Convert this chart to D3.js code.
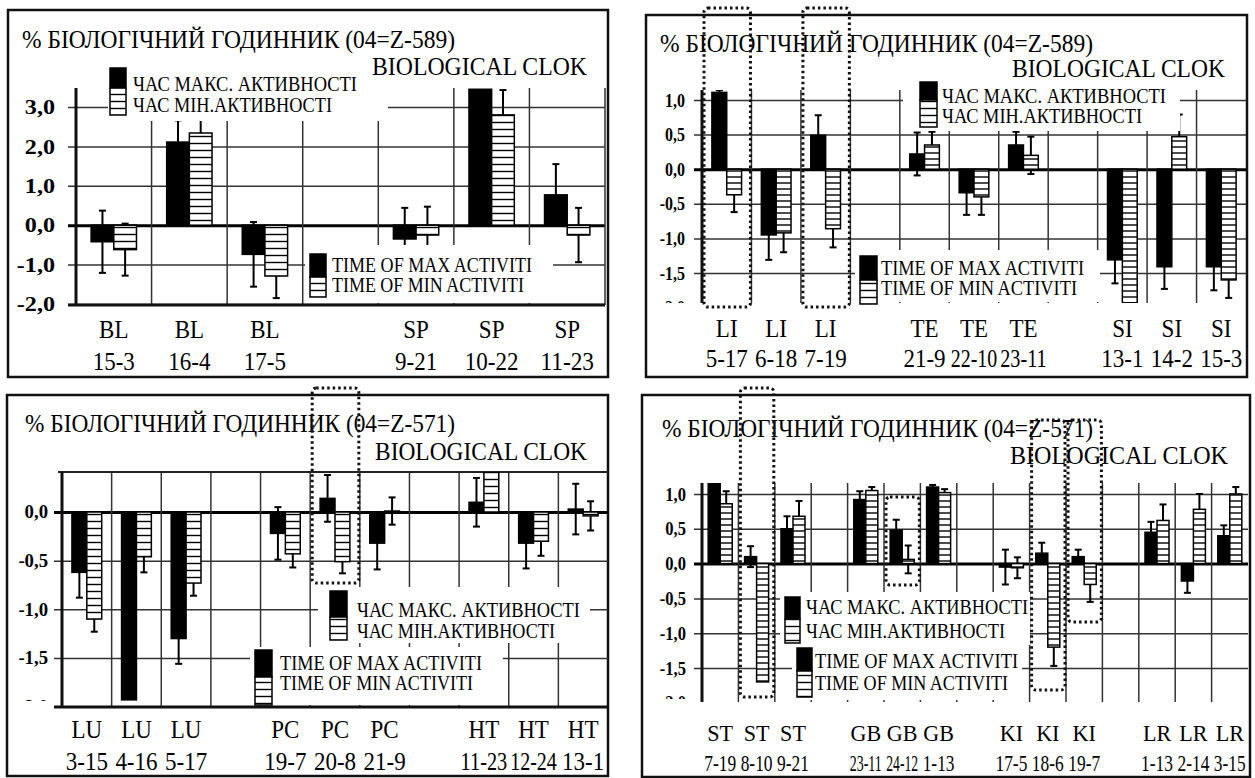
<!DOCTYPE html>
<html>
<head>
<meta charset="utf-8">
<style>
  body { margin: 0; background: #fff; }
  svg { display: block; }
  text { fill: #000; font-family: "Liberation Serif", "Times New Roman", Tinos, "Nimbus Roman", "DejaVu Serif", serif; }
</style>
</head>
<body>
<svg width="1255" height="778"></svg>
<script src="https://d3js.org/d3.v7.min.js"></script>
<script>
// ---------- data ----------
const subtitle = "BIOLOGICAL CLOK";
const legendUk = ["ЧАС МАКС. АКТИВНОСТІ", "ЧАС МІН.АКТИВНОСТІ"];
const legendEn = ["TIME OF MAX ACTIVITI", "TIME OF MIN ACTIVITI"];

// panel A: 04=Z-589, BL / SP
const titleA = "% БІОЛОГІЧНИЙ ГОДИННИК (04=Z-589)";
const codesA = ["BL", "BL", "BL", "", "SP", "SP", "SP"];
const hoursA = ["15-3", "16-4", "17-5", "", "9-21", "10-22", "11-23"];
const maxA = [-0.42, 2.11, -0.74, null, -0.35, 3.45, 0.77];
const maxErrA = [0.79, 0.55, 0.82, null, 0.79, 0, 0.78];
const minA = [-0.62, 2.34, -1.29, null, -0.25, 2.8, -0.25];
const minErrA = [0.66, 0.4, 0.56, null, 0.72, 0.63, 0.69];
const ticksA = [3, 2, 1, 0, -1, -2];

// panel B: 04=Z-589, LI / TE / SI
const titleB = "% БІОЛОГІЧНИЙ ГОДИННИК (04=Z-589)";
const codesB = ["LI", "LI", "LI", "", "TE", "TE", "TE", "", "SI", "SI", "SI"];
const hoursB = ["5-17", "6-18", "7-19", "", "21-9", "22-10", "23-11", "", "13-1", "14-2", "15-3"];
const maxB = [1.11, -0.95, 0.49, null, 0.22, -0.34, 0.35, null, -1.31, -1.41, -1.41];
const maxErrB = [0.03, 0.36, 0.29, null, 0.31, 0.32, 0.19, null, 0.34, 0.32, 0.34];
const minB = [-0.37, -0.92, -0.86, null, 0.35, -0.4, 0.2, null, -1.93, 0.47, -1.6];
const minErrB = [0.25, 0.28, 0.27, null, 0.19, 0.26, 0.27, null, 0, 0.32, 0.26];
const ticksB = [1, 0.5, 0, -0.5, -1, -1.5, -2];

// panel C: 04=Z-571, LU / PC / HT
const titleC = "% БІОЛОГІЧНИЙ ГОДИННИК (04=Z-571)";
const codesC = ["LU", "LU", "LU", "", "PC", "PC", "PC", "", "HT", "HT", "HT"];
const hoursC = ["3-15", "4-16", "5-17", "", "19-7", "20-8", "21-9", "", "11-23", "12-24", "13-1"];
const maxC = [-0.62, -1.93, -1.3, null, -0.22, 0.14, -0.32, null, 0.1, -0.32, 0.03];
const maxErrC = [0.26, 0, 0.26, null, 0.27, 0.24, 0.27, null, 0.25, 0.26, 0.26];
const minC = [-1.1, -0.46, -0.73, null, -0.43, -0.51, 0.01, null, 0.42, -0.3, -0.04];
const minErrC = [0.13, 0.16, 0.13, null, 0.14, 0.12, 0.14, null, 0, 0.15, 0.15];
const ticksC = [0, -0.5, -1, -1.5, -2];

// panel D: 04=Z-571, ST / GB / KI / LR
const titleD = "% БІОЛОГІЧНИЙ ГОДИННИК (04=Z-571)";
const codesD = ["ST", "ST", "ST", "", "GB", "GB", "GB", "", "KI", "KI", "KI", "", "LR", "LR", "LR"];
const hoursD = ["7-19", "8-10", "9-21", "", "23-11", "24-12", "1-13", "", "17-5", "18-6", "19-7", "", "1-13", "2-14", "3-15"];
const maxD = [1.15, 0.1, 0.5, null, 0.92, 0.48, 1.1, null, -0.05, 0.15, 0.1, null, 0.45, -0.25, 0.4];
const maxErrD = [0, 0.15, 0.18, null, 0.12, 0.15, 0.03, null, 0.25, 0.15, 0.1, null, 0.15, 0.17, 0.15];
const minD = [0.86, -1.7, 0.68, null, 1.05, 0.06, 1.02, null, -0.06, -1.2, -0.3, null, 0.62, 0.78, 1.0];
const minErrD = [0.18, 0, 0.22, null, 0.05, 0.2, 0.05, null, 0.15, 0.27, 0.25, null, 0.23, 0.22, 0.1];
const ticksD = [1, 0.5, 0, -0.5, -1, -1.5, -2];

// ---------- layout ----------
const panels = [
  { id: "A", title: titleA, codes: codesA, hours: hoursA, max: maxA, maxErr: maxErrA, min: minA, minErr: minErrA, ticks: ticksA,
    border: [8, 10, 608, 377], x0: 76, x1: 605, yDomain: [-2, 3], yRange: [304, 107], top: 88, bottom: 305,
    barFrac: 0.3, hatch: "hatch7", tickSize: 21, tickSx: 1.15, tickPad: 21, labelClip: 400,
    bottomLine: true, topLine: false, titlePos: [22, 455, 48], bioPos: [372, 587, 75],
    leg1: { sw: [110, 16, 68, 88, 115], tx: 133, lines: [[357, 91], [332, 112]], bg: [108, 60, 388, 121] },
    leg2: { sw: [310, 16, 254, 277, 297], tx: 332, lines: [[532, 272], [524, 292]], bg: [305, 245, 553, 303] },
    xl: [338, 370, 25, 0.92, 4], boxes: [] },
  { id: "B", title: titleB, codes: codesB, hours: hoursB, max: maxB, maxErr: maxErrB, min: minB, minErr: minErrB, ticks: ticksB,
    border: [646, 15, 1247, 377], x0: 702, x1: 1246, yDomain: [-1.5, 1], yRange: [273, 100], top: 90, bottom: 303,
    barFrac: 0.3, hatch: "hatch6", tickSize: 19, tickSx: 0.84, tickPad: 17, labelClip: 303,
    bottomLine: false, topLine: false, titlePos: [660, 1093, 52], bioPos: [1012, 1225, 77],
    leg1: { sw: [920, 17, 82, 100, 127], tx: 942, lines: [[1166, 103], [1142, 123]], bg: [903, 78, 1180, 131] },
    leg2: { sw: [860, 17, 256, 280, 304], tx: 881, lines: [[1084, 275], [1077, 295]], bg: [855, 250, 1100, 302] },
    xl: [337, 367, 25, 0.92, 3], boxes: [[0, 8, 307], [2, 8, 307]] },
  { id: "C", title: titleC, codes: codesC, hours: hoursC, max: maxC, maxErr: maxErrC, min: minC, minErr: minErrC, ticks: ticksC,
    border: [7, 395, 608, 776], x0: 62, x1: 608, yDomain: [-1.5, 0], yRange: [658, 512], top: 472, bottom: 707,
    barFrac: 0.3, hatch: "hatch7", tickSize: 18, tickSx: 1.04, tickPad: 14, labelClip: 701,
    bottomLine: true, topLine: true, titlePos: [25, 455, 432], bioPos: [375, 587, 460],
    leg1: { sw: [330, 17, 591, 617, 640], tx: 357, lines: [[580, 617], [555, 638]], bg: [318, 587, 590, 643] },
    leg2: { sw: [255, 17, 650, 677, 705], tx: 280, lines: [[482, 670], [473, 690]], bg: [250, 647, 503, 705] },
    xl: [738, 770, 25, 0.92, 3], boxes: [[5, 388, 583]] },
  { id: "D", title: titleD, codes: codesD, hours: hoursD, max: maxD, maxErr: maxErrD, min: minD, minErr: minErrD, ticks: ticksD,
    border: [642, 395, 1250, 777], x0: 702, x1: 1248, yDomain: [-1.5, 1], yRange: [668, 494], top: 483, bottom: 702,
    barFrac: 0.33, hatch: "hatch6", tickSize: 19, tickSx: 0.87, tickPad: 16, labelClip: 699,
    bottomLine: false, topLine: false, titlePos: [662, 1093, 437], bioPos: [1010, 1228, 464],
    leg1: { sw: [785, 15, 597, 619, 643], tx: 806, lines: [[1028, 614], [1005, 638]], bg: [780, 592, 1030, 645] },
    leg2: { sw: [797, 15, 648, 671, 697], tx: 815, lines: [[1018, 668], [1008, 690]], bg: [792, 645, 1022, 700] },
    xl: [741, 771, 24, 0.92, 4.5], boxes: [[1, 388, 697], [5, 497, 585], [9, 420, 690], [10, 420, 622]] }
];

// Times-like advance widths (em) so text keeps its size whichever serif font is found
const em = { "0": .5, "1": .5, "2": .5, "3": .5, "4": .5, "5": .5, "6": .5, "7": .5, "8": .5, "9": .5,
  "-": .333, ",": .25, B: .667, L: .611, S: .556, P: .556, I: .333, T: .611, E: .611, U: .722,
  C: .667, H: .722, G: .722, K: .722, R: .667 };
const tw = s => d3.sum(Array.from(s), c => em[c] || .6);

const svg = d3.select("svg");
const defs = svg.append("defs");

function hatch(id, h) {
  const p = defs.append("pattern").attr("id", id).attr("patternUnits", "userSpaceOnUse")
    .attr("width", 10).attr("height", h);
  p.append("rect").attr("width", 10).attr("height", h).attr("fill", "#fff");
  p.append("line").attr("x1", 0).attr("x2", 10).attr("y1", h / 2).attr("y2", h / 2)
    .attr("stroke", "#000").attr("stroke-width", 1.4);
}
hatch("hatch7", 7);
hatch("hatch6", 6);

function fitText(g, str, xa, xb, base, size) {
  g.append("text").attr("x", xa).attr("y", base)
    .attr("textLength", xb - xa).attr("lengthAdjust", "spacingAndGlyphs")
    .style("font-size", size + "px").text(str);
}

function drawPanel(p) {
  const g = svg.append("g");
  const n = p.codes.length;
  const x = d3.scaleBand().domain(d3.range(n)).range([p.x0, p.x1]);
  const y = d3.scaleLinear().domain(p.yDomain).range(p.yRange);
  const bw = x.bandwidth() * p.barFrac;
  const [bx0, by0, bx1, by1] = p.border;

  g.append("rect").attr("x", bx0).attr("y", by0).attr("width", bx1 - bx0).attr("height", by1 - by0)
    .attr("fill", "#fff").attr("stroke", "#111").attr("stroke-width", 2.5);

  defs.append("clipPath").attr("id", "clip" + p.id).append("rect")
    .attr("x", p.x0).attr("y", p.top).attr("width", p.x1 - p.x0).attr("height", p.bottom - p.top);
  defs.append("clipPath").attr("id", "lbl" + p.id).append("rect")
    .attr("x", -100).attr("y", 0).attr("width", p.x1 - p.x0 + 102).attr("height", p.labelClip);

  // y axis: ticks, labels and horizontal grid
  const fmt = d => d3.format(".1f")(d).replace("−", "-").replace(".", ",");
  const yAxis = d3.axisLeft(y).tickValues(p.ticks).tickSize(-(p.x1 - p.x0)).tickPadding(p.tickPad).tickFormat(fmt);
  const ga = g.append("g").attr("transform", `translate(${p.x0},0)`)
    .attr("clip-path", `url(#lbl${p.id})`).call(yAxis);
  ga.select(".domain").remove();
  ga.selectAll(".tick line").attr("x1", -8)
    .attr("stroke", d => d === 0 ? "#000" : "#333").attr("stroke-width", d => d === 0 ? 3 : 1.5);
  ga.selectAll(".tick text")
    .attr("fill", "#111")
    .style("font-size", p.tickSize + "px").style("font-weight", "bold")
    .attr("textLength", d => tw(fmt(d)) * p.tickSize * p.tickSx).attr("lengthAdjust", "spacingAndGlyphs");

  // vertical grid at band edges
  const vx = d3.range(1, n).map(i => x(i));
  if (p.x1 < bx1 - 2) vx.push(p.x1);
  g.append("g").selectAll("line").data(vx).join("line")
    .attr("x1", d => d).attr("x2", d => d).attr("y1", p.top).attr("y2", p.bottom)
    .attr("stroke", "#333").attr("stroke-width", 1.5);

  if (p.topLine) g.append("line").attr("x1", p.x0 - 4).attr("x2", bx1).attr("y1", p.top).attr("y2", p.top)
    .attr("stroke", "#222").attr("stroke-width", 2);
  if (p.bottomLine) g.append("line").attr("x1", p.x0 - 8).attr("x2", p.x1).attr("y1", p.bottom).attr("y2", p.bottom)
    .attr("stroke", "#111").attr("stroke-width", 3);
  g.append("line").attr("x1", p.x0).attr("x2", p.x0).attr("y1", p.top).attr("y2", p.bottom)
    .attr("stroke", "#111").attr("stroke-width", 3);

  // error bars and bars
  const marks = g.append("g").attr("clip-path", `url(#clip${p.id})`);
  const series = [
    { vals: p.max, errs: p.maxErr, side: -1, fill: "#000" },
    { vals: p.min, errs: p.minErr, side: 1, fill: `url(#${p.hatch})` }
  ];
  const idx = d3.range(n).filter(i => p.max[i] != null);
  series.forEach(s => {
    idx.filter(i => s.errs[i] > 0).forEach(i => {
      const cx = x(i) + x.bandwidth() / 2 + s.side * bw / 2;
      const hi = y(s.vals[i] + s.errs[i]), lo = y(s.vals[i] - s.errs[i]);
      const eb = marks.append("g").attr("stroke", "#000").attr("stroke-width", 2);
      eb.append("line").attr("x1", cx).attr("x2", cx).attr("y1", hi).attr("y2", lo);
      eb.append("line").attr("x1", cx - 3.5).attr("x2", cx + 3.5).attr("y1", hi).attr("y2", hi);
      eb.append("line").attr("x1", cx - 3.5).attr("x2", cx + 3.5).attr("y1", lo).attr("y2", lo);
    });
  });
  series.forEach(s => {
    marks.append("g").selectAll("rect").data(idx).join("rect")
      .attr("x", i => x(i) + x.bandwidth() / 2 + (s.side < 0 ? -bw : 0))
      .attr("width", bw)
      .attr("y", i => Math.min(y(0), y(s.vals[i])))
      .attr("height", i => Math.abs(y(s.vals[i]) - y(0)))
      .attr("fill", s.fill).attr("stroke", "#000").attr("stroke-width", 1.5);
  });

  // legends
  [p.leg1, p.leg2].forEach((L, k) => {
    const [gx0, gy0, gx1, gy1] = L.bg;
    g.append("rect").attr("x", gx0).attr("y", gy0).attr("width", gx1 - gx0).attr("height", gy1 - gy0).attr("fill", "#fff");
    const [sx, sw, s0, s1, s2] = L.sw;
    g.append("rect").attr("x", sx).attr("y", s0).attr("width", sw).attr("height", s1 - s0)
      .attr("fill", "#000").attr("stroke", "#000").attr("stroke-width", 1.5);
    g.append("rect").attr("x", sx).attr("y", s1).attr("width", sw).attr("height", s2 - s1)
      .attr("fill", "url(#hatch7)").attr("stroke", "#000").attr("stroke-width", 1.5);
    const texts = k === 0 ? legendUk : legendEn;
    L.lines.forEach(([end, base], j) => fitText(g, texts[j], L.tx, end, base, 22));
  });

  // category labels (two lines, kept inside the band step)
  const [yc, yh, fs, fsx, gap] = p.xl;
  const maxW = x.step() - gap;
  const lab = g.append("g").style("font-size", fs + "px").attr("text-anchor", "middle");
  idx.forEach(i => {
    const cx = x(i) + x.bandwidth() / 2;
    [[p.codes[i], yc], [p.hours[i], yh]].forEach(([s, yy]) => {
      lab.append("text").attr("x", cx).attr("y", yy)
        .attr("textLength", Math.min(tw(s) * fs * fsx, maxW)).attr("lengthAdjust", "spacingAndGlyphs")
        .text(s);
    });
  });

  // titles
  fitText(g, p.title, p.titlePos[0], p.titlePos[1], p.titlePos[2], 26);
  fitText(g, subtitle, p.bioPos[0], p.bioPos[1], p.bioPos[2], 26);

  // dotted highlight boxes
  p.boxes.forEach(([i, ya, yb]) => {
    g.append("rect").attr("x", x(i) + 2).attr("y", ya).attr("width", x.bandwidth() - 3).attr("height", yb - ya)
      .attr("rx", 4).attr("fill", "none").attr("stroke", "#111").attr("stroke-width", 3)
      .attr("stroke-dasharray", "2.5,3");
  });
}

panels.forEach(drawPanel);
</script>
</body>
</html>
